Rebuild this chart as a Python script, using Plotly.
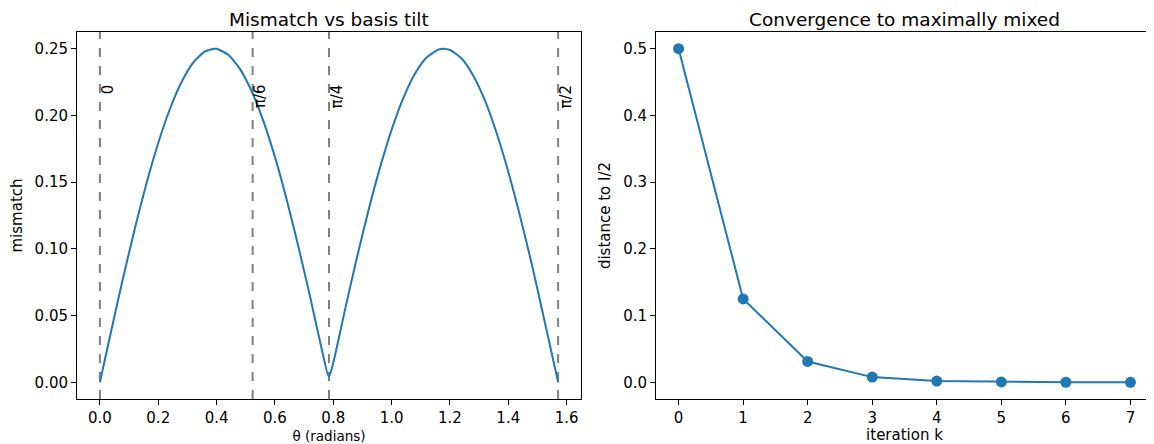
import plotly.graph_objects as go

# Left panel: mismatch vs theta
theta = [0.0, 0.04, 0.08, 0.12, 0.16, 0.20, 0.24, 0.28, 0.32, 0.36, 0.3927, 0.40, 0.44, 0.48,
         0.52, 0.56, 0.60, 0.64, 0.68, 0.72, 0.76, 0.785, 0.80, 0.84, 0.88, 0.92, 0.96, 1.00,
         1.04, 1.08, 1.12, 1.16, 1.178, 1.20, 1.24, 1.28, 1.32, 1.36, 1.40, 1.44, 1.48, 1.52,
         1.56, 1.5708]
mismatch = [0.0, 0.0398, 0.0787, 0.1154, 0.1493, 0.1793, 0.2048, 0.2250, 0.2395, 0.2479, 0.2500,
            0.2499, 0.2455, 0.2349, 0.2182, 0.1961, 0.1689, 0.1372, 0.1021, 0.0647, 0.0253,
            0.004, 0.0146, 0.0541, 0.0924, 0.1282, 0.1607, 0.1892, 0.2130, 0.2312, 0.2434,
            0.2493, 0.2500, 0.2490, 0.2426, 0.2298, 0.2112, 0.1868, 0.1578, 0.1249, 0.0890,
            0.0502, 0.0108, 0.0]
marker_pos = [0.0, 0.5236, 0.7854, 1.5708]
marker_labels = ["0", "π/6", "π/4", "π/2"]

# Right panel: convergence
iterations = [0, 1, 2, 3, 4, 5, 6, 7]
distance = [0.5, 0.125, 0.03125, 0.0078, 0.00195, 0.0005, 0.00012, 0.00003]

BLUE = "#1f77b4"
FONT = "DejaVu Sans"
TICK = 15
TITLE = 18.5
OFF = 8  # page body margin
W, H = 1154 - OFF, 444 - OFF
ML, MT = 77 - OFF, 32 - OFF
MR = W - (1153 - OFF)
MB = H - (399 - OFF)
pw = W - ML - MR

fig = go.Figure()
fig.add_trace(go.Scatter(x=theta, y=mismatch, mode="lines",
                         line=dict(color=BLUE, width=2, shape="spline", smoothing=0.6),
                         xaxis="x", yaxis="y", showlegend=False))
fig.add_trace(go.Scatter(x=iterations, y=distance, mode="lines+markers",
                         line=dict(color=BLUE, width=2), marker=dict(color=BLUE, size=11),
                         xaxis="x2", yaxis="y2", showlegend=False))

for xp, lab in zip(marker_pos, marker_labels):
    fig.add_shape(type="line", xref="x", yref="y domain", x0=xp, x1=xp, y0=0, y1=1,
                  line=dict(color="#808080", width=2, dash="dash"), layer="below")
    fig.add_annotation(x=xp, y=0.224, xref="x", yref="y", text=lab, textangle=-90,
                       showarrow=False, xanchor="left", yanchor="top", xshift=-2,
                       borderpad=0, font=dict(family=FONT, size=TICK, color="black"))

d1 = (581 - 77) / pw
d2 = (656 - 77) / pw

axis_common = dict(showline=True, linecolor="black", linewidth=1, mirror=True, ticks="outside",
                   ticklen=5, tickcolor="black", showgrid=False, zeroline=False, automargin=False,
                   tickfont=dict(family=FONT, size=TICK, color="black"))

fig.update_layout(
    width=W, height=H, margin=dict(l=ML, r=MR, t=MT, b=MB),
    paper_bgcolor="white", plot_bgcolor="white",
    xaxis=dict(domain=[0, d1], range=[-0.0785, 1.6493], tickvals=[0, 0.2, 0.4, 0.6, 0.8, 1.0, 1.2, 1.4, 1.6],
               ticktext=["0.0", "0.2", "0.4", "0.6", "0.8", "1.0", "1.2", "1.4", "1.6"],
               title=dict(text="θ (radians)", font=dict(family=FONT, size=13.5, color="black"), standoff=8),
               anchor="y", **axis_common),
    yaxis=dict(domain=[0, 1], range=[-0.0125, 0.2625], tickvals=[0, 0.05, 0.1, 0.15, 0.2, 0.25],
               ticktext=["0.00", "0.05", "0.10", "0.15", "0.20", "0.25"],
               title=dict(text="mismatch", font=dict(family=FONT, size=TICK, color="black"), standoff=8),
               anchor="x", **axis_common),
    xaxis2=dict(domain=[d2, 1], range=[-0.35, 7.35], tickvals=list(range(8)),
                title=dict(text="iteration k", font=dict(family=FONT, size=TICK, color="black"), standoff=8),
                anchor="y2", **axis_common),
    yaxis2=dict(domain=[0, 1], range=[-0.025, 0.525], tickvals=[0, 0.1, 0.2, 0.3, 0.4, 0.5],
                ticktext=["0.0", "0.1", "0.2", "0.3", "0.4", "0.5"],
                title=dict(text="distance to I/2", font=dict(family=FONT, size=TICK, color="black"), standoff=8),
                anchor="x2", **axis_common),
    annotations=list(fig.layout.annotations) + [
        dict(text="Mismatch vs basis tilt", xref="paper", yref="paper", x=d1 / 2, y=1, yshift=0,
             xanchor="center", yanchor="bottom", showarrow=False,
             font=dict(family=FONT, size=TITLE, color="black")),
        dict(text="Convergence to maximally mixed", xref="paper", yref="paper", x=(d2 + 1) / 2, y=1,
             yshift=0, xanchor="center", yanchor="bottom", showarrow=False,
             font=dict(family=FONT, size=TITLE, color="black")),
    ],
)

fig.write_html("out.html")
